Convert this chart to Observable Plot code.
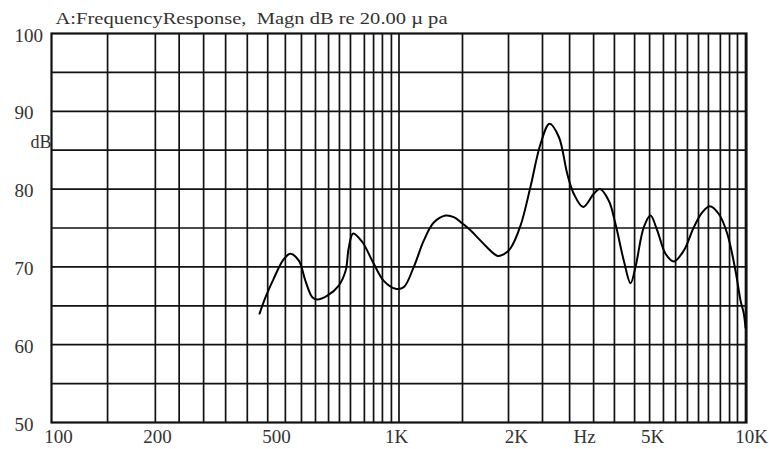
<!DOCTYPE html>
<html>
<head>
<meta charset="utf-8">
<script src="https://cdn.jsdelivr.net/npm/d3@7"></script>
<script src="https://cdn.jsdelivr.net/npm/@observablehq/plot@0.6"></script>
<style>
  html, body { margin: 0; padding: 0; background: #fff; }
  svg { display: block; }
</style>
</head>
<body>
<div id="chart"></div>
<script>
// Frequency response curve (Hz, dB)
const freqHz = [397, 413, 436, 466, 487, 515, 538, 563, 582, 622, 671, 702, 717, 738, 784, 846, 904, 977, 1032, 1103, 1179, 1259, 1361, 1438, 1520, 1606, 1697, 1794, 1874, 1927, 2000, 2094, 2237, 2390, 2554, 2711, 2884, 3048, 3184, 3389, 3636, 3784, 4016, 4198, 4436, 4637, 4793, 5064, 5293, 5534, 5847, 6178, 6601, 7053, 7458, 7843, 8324, 8800, 9297, 9610, 9822, 9934];
const magDb  = [64.0, 66.1, 68.5, 71.0, 71.7, 70.8, 68.2, 66.1, 65.8, 66.3, 67.6, 69.5, 72.5, 74.3, 73.2, 70.4, 68.2, 67.2, 67.4, 70.0, 73.4, 75.7, 76.6, 76.4, 75.6, 74.7, 73.6, 72.5, 71.7, 71.4, 71.6, 72.4, 75.3, 80.3, 85.8, 88.4, 86.7, 82.0, 79.4, 77.7, 79.4, 80.0, 78.5, 75.5, 70.8, 67.9, 70.0, 75.1, 76.6, 74.7, 71.7, 70.7, 72.1, 75.1, 77.0, 77.8, 76.8, 74.3, 69.5, 65.7, 64.0, 62.2];

// Vertical grid lines (Hz) as drawn in the reference
const gridHz = [145, 199, 233, 274, 317, 366, 419, 471, 524, 575, 627, 674, 725, 795, 845, 896, 951, 1000,
  1523, 2066, 2588, 3097, 3631, 4168, 4764, 5262, 5768, 6251, 6762, 7276, 7770, 8410, 8937, 9420, 9934];
// Horizontal grid lines (dB)
const gridDb = [55, 60, 65, 70, 75, 80, 85, 90, 95];

// Tick labels
const yTickDb = [100, 90, 80, 70, 60, 50];
const xTickLabels = ["100", "200", "500", "1K", "2K", "Hz", "5K", "10K"];
const xTickHz = [104.7, 201.8, 444, 983.5, 2178, 3419, 5364, 10338];
const yAxisTitle = [{text: "dB", db: 86}];
const title = "A:FrequencyResponse,  Magn dB re 20.00 \u00b5 pa";

const curve = freqHz.map((f, i) => ({f, db: magDb[i]}));
const xLabelData = xTickHz.map((hz, i) => ({hz, label: xTickLabels[i]}));

const font = "'Liberation Serif', 'Times New Roman', serif";

const svg = Plot.plot({
  width: 769,
  height: 449,
  marginLeft: 51,
  marginRight: 23,
  marginTop: 33,
  marginBottom: 27,
  style: {fontFamily: font, color: "#222", background: "#fff"},
  x: {type: "log", domain: [100, 10000], axis: null},
  y: {domain: [50, 100], axis: null},
  marks: [
    Plot.ruleX(gridHz, {stroke: "#111", strokeWidth: 1.7}),
    Plot.ruleY(gridDb, {stroke: "#111", strokeWidth: 1.7}),
    Plot.frame({stroke: "#111", strokeWidth: 2.2}),
    Plot.line(curve, {x: "f", y: "db", curve: "catmull-rom", stroke: "#000", strokeWidth: 2}),
    Plot.text(yTickDb, {y: d => d, text: d => String(d), frameAnchor: "left", textAnchor: "start", dx: -37, dy: 2, fontSize: 19, fill: "#333"}),
    Plot.text(yAxisTitle, {y: "db", text: "text", frameAnchor: "left", textAnchor: "end", dx: 0, fontSize: 18, fill: "#333"}),
    Plot.text(xLabelData, {x: "hz", text: "label", frameAnchor: "bottom", lineAnchor: "top", dy: 7, fontSize: 19, fill: "#333"}),
    Plot.text([title], {text: d => d, frameAnchor: "top-left", textAnchor: "start", lineAnchor: "bottom", dx: 4, dy: -10, fontSize: 17, fill: "#333"})
  ]
});

d3.select(svg).selectAll("text").each(function() {
  if (this.textContent.startsWith("A:")) {
    this.setAttribute("textLength", 392);
    this.setAttribute("lengthAdjust", "spacingAndGlyphs");
  }
});

document.getElementById("chart").appendChild(svg);
</script>
</body>
</html>
